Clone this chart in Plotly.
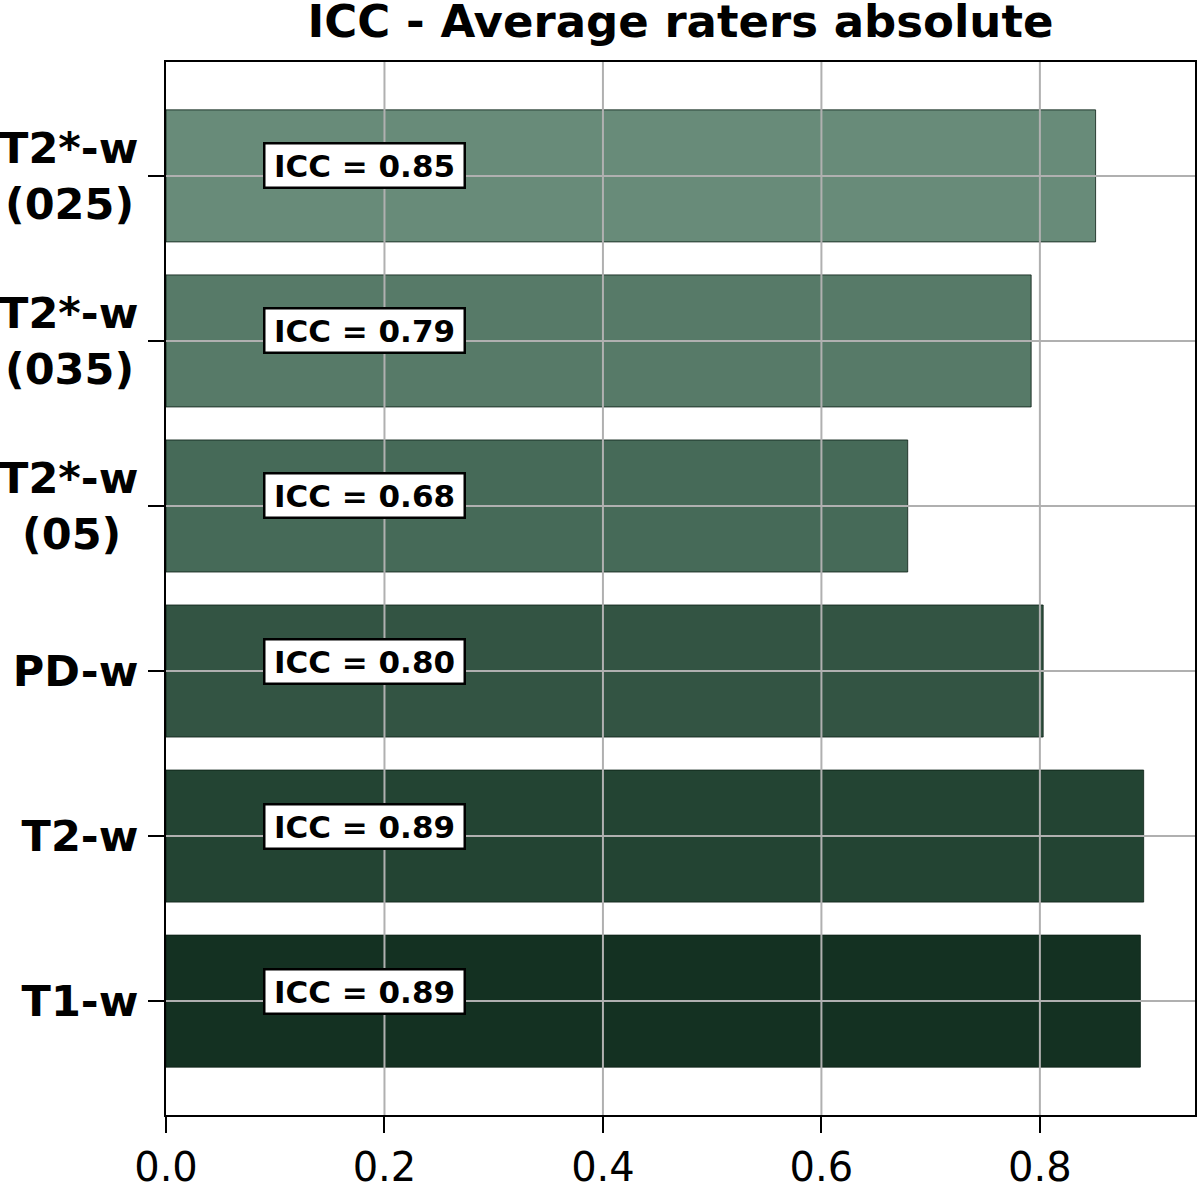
import plotly.graph_objects as go

categories = ["T1-w", "T2-w", "PD-w", "T2*-w<br>(05)", "T2*-w<br>(035)", "T2*-w<br>(025)"]
icc_values = [0.892, 0.895, 0.803, 0.679, 0.792, 0.851]
icc_labels = ["0.89", "0.89", "0.80", "0.68", "0.79", "0.85"]
bar_colors = ["#143122", "#234433", "#335443", "#466a58", "#577a68", "#688b79"]
x_ticks = [0.0, 0.2, 0.4, 0.6, 0.8]

# hair spaces appended to second lines so the two-line labels look centred
line2_pad = {"T2*-w<br>(05)": 4, "T2*-w<br>(035)": 1, "T2*-w<br>(025)": 1}
tick_text = ["<b>" + c + "\u200a" * line2_pad.get(c, 0) + "</b>" for c in categories]

fig = go.Figure()
fig.add_trace(go.Bar(
    y=list(range(len(categories))),
    x=icc_values,
    orientation="h",
    width=0.8,
    marker=dict(color=bar_colors, line=dict(color="rgba(10,30,20,0.8)", width=1)),
    showlegend=False,
    hoverinfo="skip",
))

# grid drawn above the bars (as in the reference)
grid_style = dict(color="#b0b0b0", width=2)
for xv in x_ticks[1:]:
    fig.add_shape(type="line", xref="x", yref="paper", x0=xv, x1=xv, y0=0, y1=1,
                  line=grid_style, layer="above")
for i in range(len(categories)):
    fig.add_shape(type="line", xref="paper", yref="y", x0=0, x1=1, y0=i, y1=i,
                  line=grid_style, layer="above")

for i, lab in enumerate(icc_labels):
    fig.add_annotation(
        x=0.182, y=i, xref="x", yref="y",
        text="<b>ICC = " + lab + "</b>",
        showarrow=False, yshift=10, width=188, height=32,
        font=dict(family="DejaVu Sans", size=31, color="black"),
        bgcolor="white", bordercolor="black", borderwidth=2.5, borderpad=5,
    )

W, H = 1200, 1184
fig.update_layout(
    width=W, height=H,
    margin=dict(l=166, r=5, t=62, b=69),
    plot_bgcolor="white", paper_bgcolor="white",
    title=dict(text="<b>ICC - Average raters absolute</b>",
               x=(166 + (W - 5)) / 2 / W, xanchor="center",
               y=1 - 21 / H, yanchor="middle",
               font=dict(family="DejaVu Sans", size=45, color="black")),
    font=dict(family="DejaVu Sans", color="black"),
)
fig.update_xaxes(
    range=[0, 0.942], tickvals=x_ticks, ticktext=[f"{v:.1f}" for v in x_ticks],
    showgrid=False,
    showline=True, linecolor="black", linewidth=2, mirror=True,
    ticks="outside", ticklen=16, tickwidth=2, tickcolor="black",
    tickfont=dict(family="DejaVu Sans", size=40, color="black"),
    zeroline=False, automargin=False,
)
fig.update_yaxes(
    range=[-0.69, 5.69], tickvals=list(range(len(categories))),
    ticktext=tick_text,
    showgrid=False,
    showline=True, linecolor="black", linewidth=2, mirror=True,
    ticks="outside", ticklen=16, tickwidth=2, tickcolor="black",
    tickfont=dict(family="DejaVu Sans", size=43, color="black"),
    ticklabelstandoff=1,
    zeroline=False, automargin=False,
)

# remove the default 8px page margin so the figure fills the window exactly
fig.write_html("out.html", config={"displayModeBar": False},
               post_script="document.body.style.margin='0px';")
